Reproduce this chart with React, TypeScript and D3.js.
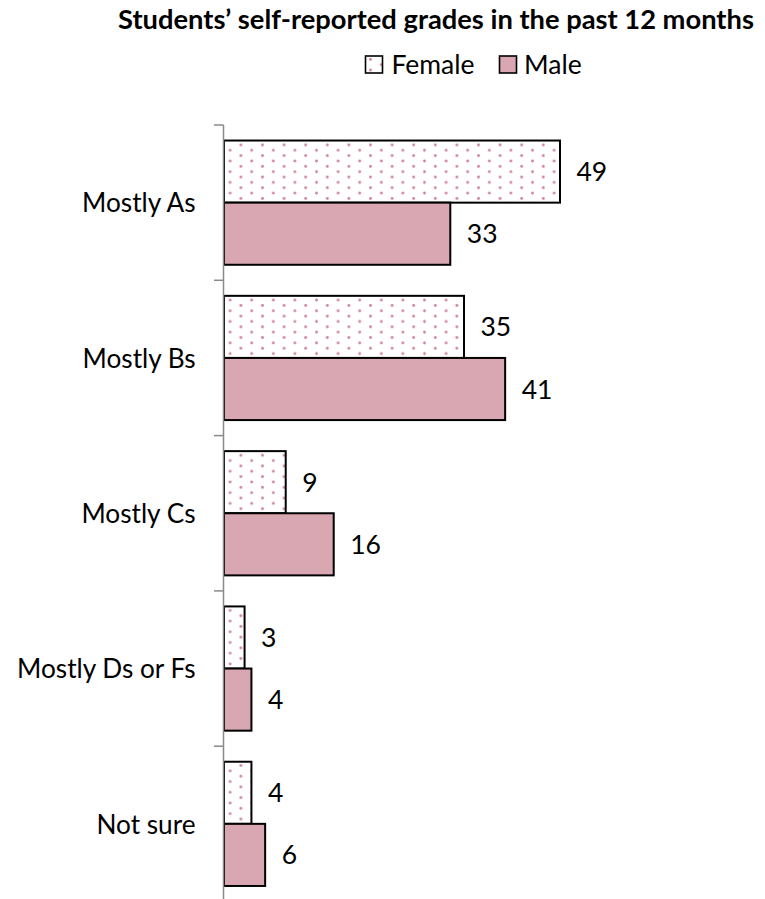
import React from "react";
import * as d3 from "d3";

const categories = ["Mostly As", "Mostly Bs", "Mostly Cs", "Mostly Ds or Fs", "Not sure"];
const seriesNames = ["Female", "Male"];
const femaleValues = [49, 35, 9, 3, 4];
const maleValues = [33, 41, 16, 4, 6];
const titleText = "Students\u2019 self-reported grades in the past 12 months";

const W = 765;
const H = 899;
const FONT = "Lato, 'Open Sans', sans-serif";
const MALE_FILL = "#d9a7b1";
const DOT_FILL = "#cf7f93";

export default function App() {
  const x = d3.scaleLinear().domain([0, 49]).range([224, 560]);
  const y = d3
    .scaleBand<string>()
    .domain(categories)
    .range([125, 901.5])
    .paddingInner(0.2)
    .paddingOuter(0.1);
  const sub = d3.scaleBand<string>().domain(seriesNames).range([0, y.bandwidth()]);
  const step = y.step();
  const tickYs = d3.range(categories.length + 1).map((i) => 125 + i * step);

  const rows = categories.map((c, i) => ({ c, f: femaleValues[i], m: maleValues[i] }));

  return (
    <div style={{ position: "absolute", left: 0, top: 0 }}>
      <svg width={W} height={H} style={{ display: "block", background: "#fff" }}>
        <defs>
          <pattern id="dots" patternUnits="userSpaceOnUse" width={21.6} height={10.7} x={1.8} y={4.4}>
            <rect width={21.6} height={10.7} fill="#fff" />
            <circle cx={1.5} cy={1.5} r={1.4} fill={DOT_FILL} />
            <circle cx={12.3} cy={6.85} r={1.4} fill={DOT_FILL} />
          </pattern>
        </defs>

        <text x={436} y={28.5} textAnchor="middle" fontFamily={FONT} fontWeight="bold" fontSize={27.3} fill="#000">
          {titleText}
        </text>

        {/* legend */}
        <rect x={365.5} y={56} width={17} height={17} fill="url(#dots)" stroke="#000" strokeWidth={1.6} />
        <text x={391.5} y={73.5} fontFamily={FONT} fontSize={26.5} fill="#000">{seriesNames[0]}</text>
        <rect x={499.5} y={56} width={17} height={17} fill={MALE_FILL} stroke="#000" strokeWidth={1.6} />
        <text x={524} y={73.5} fontFamily={FONT} fontSize={26.5} fill="#000">{seriesNames[1]}</text>

        {rows.map((r) => {
          const y0 = y(r.c)!;
          const fy = y0 + sub("Female")!;
          const my = y0 + sub("Male")!;
          const bh = sub.bandwidth();
          return (
            <g key={r.c}>
              <rect x={x(0)} y={fy} width={x(r.f) - x(0)} height={bh} fill="url(#dots)" stroke="#000" strokeWidth={2} />
              <rect x={x(0)} y={my} width={x(r.m) - x(0)} height={bh} fill={MALE_FILL} stroke="#000" strokeWidth={2} />
              <text x={x(r.f) + 16.5} y={fy + bh / 2 + 9.5} fontFamily={FONT} fontSize={26.5} fill="#000">{r.f}</text>
              <text x={x(r.m) + 16.5} y={my + bh / 2 + 9.5} fontFamily={FONT} fontSize={26.5} fill="#000">{r.m}</text>
              <text x={195.5} y={y0 + y.bandwidth() / 2 + 9.7} textAnchor="end" fontFamily={FONT} fontSize={26.2} fill="#000">
                {r.c}
              </text>
            </g>
          );
        })}

        {/* axis */}
        <line x1={223.5} x2={223.5} y1={125} y2={H} stroke="#8a8a8a" strokeWidth={1.5} />
        {tickYs.map((t, i) => (
          <line key={i} x1={214} x2={223.5} y1={t} y2={t} stroke="#8a8a8a" strokeWidth={1.5} />
        ))}
      </svg>
    </div>
  );
}
